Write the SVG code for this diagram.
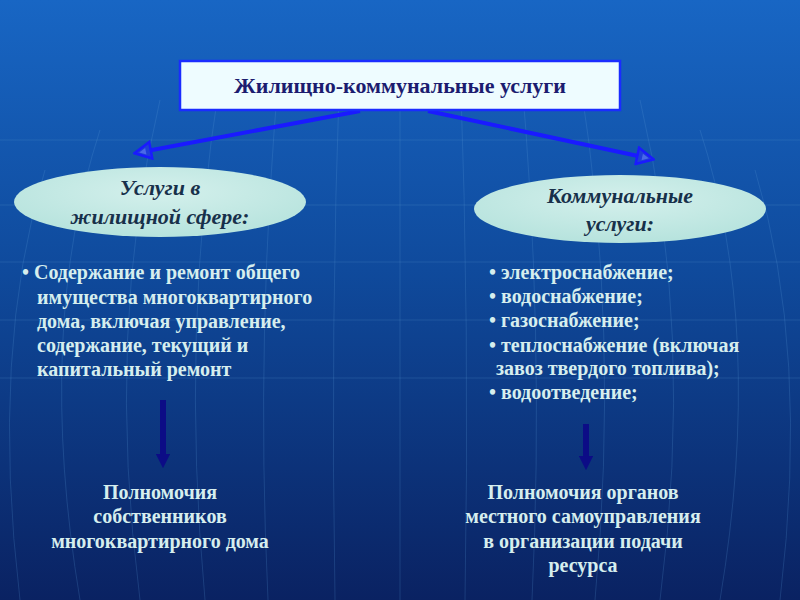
<svg xmlns="http://www.w3.org/2000/svg" width="800" height="600" viewBox="0 0 800 600">
<defs>
<linearGradient id="bg" x1="0" y1="0" x2="0" y2="1">
<stop offset="0" stop-color="#1866c4"/>
<stop offset="0.45" stop-color="#0f4a9c"/>
<stop offset="1" stop-color="#0a2262"/>
</linearGradient>
<radialGradient id="ell" cx="0.5" cy="0.35" r="0.7">
<stop offset="0" stop-color="#d4f0ec"/>
<stop offset="1" stop-color="#b4e2dc"/>
</radialGradient>
<marker id="hollow" viewBox="0 0 12 12" refX="10" refY="6" markerWidth="5" markerHeight="5" orient="auto" markerUnits="strokeWidth">
<path d="M1,1 L11,6 L1,11 Z" fill="#1e3fd8" stroke="#1a1aff" stroke-width="1.5"/>
<path d="M4,4 L8,6 L4,8 Z" fill="#4a6ae8"/>
</marker>
<marker id="down" viewBox="0 0 10 10" refX="5" refY="5" markerWidth="2.4" markerHeight="2.4" orient="auto" markerUnits="strokeWidth">
<path d="M0,0 L10,5 L0,10 Z" fill="#0c0c86"/>
</marker>
</defs>
<style>
.t{font-family:"Liberation Serif","Times New Roman",serif;font-weight:bold;font-size:20px;fill:#d6eeee}
.c{text-anchor:middle}
.e{font-family:"Liberation Serif","Times New Roman",serif;font-weight:bold;font-style:italic;font-size:22px;fill:#17304a;text-anchor:middle}
.grid{stroke:#5a9ad8;stroke-opacity:0.22;stroke-width:1;fill:none}
</style>
<rect width="800" height="600" fill="url(#bg)"/>
<g class="grid">
<path d="M0,140 H800 M0,205 H800 M0,262 H800 M0,320 H800 M0,378 H800"/>
<path d="M400,60 V600"/>
<path d="M340,60 Q330,330 335,600 M460,60 Q470,330 465,600"/>
<path d="M280,60 Q255,330 268,600 M520,60 Q545,330 532,600"/>
<path d="M220,80 Q180,330 205,600 M580,80 Q620,330 595,600"/>
<path d="M160,100 Q105,330 140,600 M640,100 Q695,330 660,600"/>
<path d="M100,130 Q35,330 80,600 M700,130 Q765,330 720,600"/>
<path d="M45,170 Q-10,350 20,600 M755,170 Q810,350 780,600"/>
</g>
<g id="connectors">
<line x1="360" y1="111" x2="136" y2="153" stroke="#1a1aff" stroke-width="4" marker-end="url(#hollow)"/>
<line x1="428" y1="111" x2="652" y2="159" stroke="#1a1aff" stroke-width="4" marker-end="url(#hollow)"/>
<line x1="163" y1="400" x2="163" y2="461" stroke="#0c0c86" stroke-width="6" marker-end="url(#down)"/>
<line x1="586" y1="424" x2="586" y2="463" stroke="#0c0c86" stroke-width="6" marker-end="url(#down)"/>
</g>
<g id="top">
<rect x="180" y="61" width="440" height="49" fill="#eefcff" stroke="#1a2cff" stroke-width="2.5"/>
<text x="400" y="93" class="c" style="font-family:'Liberation Serif',serif;font-weight:bold;font-size:22px;fill:#1c1c70">Жилищно-коммунальные услуги</text>
</g>
<g id="housing">
<ellipse cx="160" cy="202" rx="146" ry="35" fill="url(#ell)"/>
<text x="160" y="195" class="e">Услуги в</text>
<text x="160" y="224" class="e">жилищной сфере:</text>
</g>
<g id="communal">
<ellipse cx="620" cy="209" rx="146" ry="34" fill="url(#ell)"/>
<text x="620" y="203" class="e">Коммунальные</text>
<text x="620" y="231" class="e">услуги:</text>
</g>
<g id="housing-list">
<text x="22" y="279" class="t">• Содержание и ремонт общего</text>
<text x="37" y="304" class="t">имущества многоквартирного</text>
<text x="37" y="328" class="t">дома, включая управление,</text>
<text x="37" y="352" class="t">содержание, текущий и</text>
<text x="37" y="376" class="t">капитальный ремонт</text>
</g>
<g id="communal-list">
<text x="489" y="279" class="t">• электроснабжение;</text>
<text x="489" y="303" class="t">• водоснабжение;</text>
<text x="489" y="327" class="t">• газоснабжение;</text>
<text x="489" y="352" class="t">• теплоснабжение (включая</text>
<text x="496" y="375" class="t">завоз твердого топлива);</text>
<text x="489" y="399" class="t">• водоотведение;</text>
</g>
<g id="owners">
<text x="160" y="499" class="t c">Полномочия</text>
<text x="160" y="523" class="t c">собственников</text>
<text x="160" y="548" class="t c">многоквартирного дома</text>
</g>
<g id="local">
<text x="583" y="499" class="t c">Полномочия органов</text>
<text x="583" y="523" class="t c">местного самоуправления</text>
<text x="583" y="548" class="t c">в организации подачи</text>
<text x="583" y="572" class="t c">ресурса</text>
</g>
</svg>
